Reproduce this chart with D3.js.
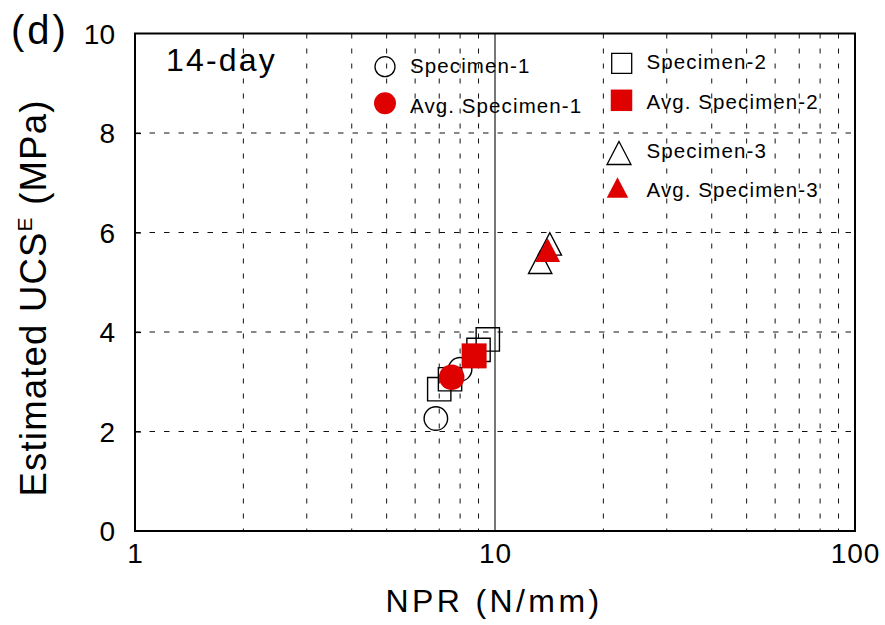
<!DOCTYPE html>
<html>
<head>
<meta charset="utf-8">
<script src="https://cdn.jsdelivr.net/npm/d3@7/dist/d3.min.js"></script>
<style>
  html, body { margin: 0; padding: 0; background: #fff; }
  svg { display: block; font-family: "Liberation Sans", Arial, sans-serif; }
</style>
</head>
<body>
<svg id="chart" width="885" height="625"></svg>
<script>
// NPR (N/mm) vs estimated UCS (MPa), 14-day specimens
const spec1NPR = [6.85, 8.0];
const spec1UCS = [2.26, 3.25];
const avg1NPR = [7.58];
const avg1UCS = [3.09];

const spec2NPR = [7.0, 7.5, 9.0, 9.55];
const spec2UCS = [2.85, 3.05, 3.64, 3.85];
const avg2NPR = [8.75];
const avg2UCS = [3.52];

const spec3NPR = [14.2, 13.35];
const spec3UCS = [5.77, 5.40];
const avg3NPR = [14.0];
const avg3UCS = [5.65];

const xTickValues = [1, 10, 100];
const yTickValues = [0, 2, 4, 6, 8, 10];
const xMinorGrid = [2, 3, 4, 5, 6, 7, 8, 9, 20, 30, 40, 50, 60, 70, 80, 90];
const yGrid = [2, 4, 6, 8];

const legendLabels = ["Specimen-1", "Avg. Specimen-1", "Specimen-2", "Avg. Specimen-2", "Specimen-3", "Avg. Specimen-3"];
const panelLabel = "(d)";
const ageLabel = "14-day";

const RED = "#df0000";

const svg = d3.select("#chart");
const plot = { left: 135, right: 855, top: 33.5, bottom: 531 };

const x = d3.scaleLog().domain([1, 100]).range([plot.left, plot.right]);
const y = d3.scaleLinear().domain([0, 10]).range([plot.bottom, plot.top]);

// marker outlines, centred on (0,0)
function markerPath(shape, s) {
  const p = d3.path();
  if (shape === "circle") {
    p.arc(0, 0, s / 2, 0, 2 * Math.PI);
  } else if (shape === "square") {
    p.rect(-s / 2, -s / 2, s, s);
  } else {
    const w = s, h = s * 0.96;
    p.moveTo(0, -h / 2);
    p.lineTo(w / 2, h / 2);
    p.lineTo(-w / 2, h / 2);
    p.closePath();
  }
  return p.toString();
}

// grid
const grid = svg.append("g");
grid.selectAll("line.vx").data(xMinorGrid).join("line")
  .attr("x1", d => x(d)).attr("x2", d => x(d))
  .attr("y1", plot.top).attr("y2", plot.bottom)
  .attr("stroke", "#111").attr("stroke-width", 1)
  .attr("stroke-dasharray", "5,10");
grid.selectAll("line.hy").data(yGrid).join("line")
  .attr("x1", plot.left).attr("x2", plot.right)
  .attr("y1", d => y(d)).attr("y2", d => y(d))
  .attr("stroke", "#111").attr("stroke-width", 1)
  .attr("stroke-dasharray", "5.5,9");
grid.append("line")
  .attr("x1", x(10)).attr("x2", x(10))
  .attr("y1", plot.top).attr("y2", plot.bottom)
  .attr("stroke", "#555").attr("stroke-width", 1.6);

// y axis with short inward ticks
const yAxis = d3.axisLeft(y).tickValues(yTickValues).tickSize(-6).tickPadding(20).tickFormat(d3.format("d"));
const yg = svg.append("g").attr("transform", `translate(${plot.left},0)`).call(yAxis);
yg.select(".domain").remove();
yg.selectAll(".tick line").attr("stroke", "#000").attr("stroke-width", 1.2)
  .filter(d => d === 0 || d === 10).remove();
yg.selectAll(".tick text").attr("font-size", 28).attr("fill", "#000")
  .attr("font-family", "Liberation Sans, Arial, sans-serif").attr("dy", "0.35em");

// x axis labels
const xAxis = d3.axisBottom(x).tickValues(xTickValues).tickSize(0).tickPadding(12).tickFormat(d3.format("d"));
const xg = svg.append("g").attr("transform", `translate(0,${plot.bottom})`).call(xAxis);
xg.select(".domain").remove();
xg.selectAll(".tick text").attr("font-size", 28).attr("fill", "#000")
  .attr("font-family", "Liberation Sans, Arial, sans-serif").attr("dy", "0.71em")
  .attr("letter-spacing", 1);

// frame
svg.append("rect")
  .attr("x", plot.left).attr("y", plot.top)
  .attr("width", plot.right - plot.left).attr("height", plot.bottom - plot.top)
  .attr("fill", "none").attr("stroke", "#000").attr("stroke-width", 2);

// data markers
const zip = (a, b) => a.map((v, i) => [v, b[i]]);
const series = [
  { pts: zip(spec1NPR, spec1UCS), shape: "circle", size: 23.5, fill: "none" },
  { pts: zip(spec2NPR, spec2UCS), shape: "square", size: 23.3, fill: "none" },
  { pts: zip(spec3NPR, spec3UCS), shape: "triangle", size: 23.3, fill: "none" },
  { pts: zip(avg1NPR, avg1UCS), shape: "circle", size: 25.6, fill: RED },
  { pts: zip(avg2NPR, avg2UCS), shape: "square", size: 25, fill: RED },
  { pts: zip(avg3NPR, avg3UCS), shape: "triangle", size: 25, fill: RED }
];
series.forEach(s => {
  svg.append("g").selectAll("path").data(s.pts).join("path")
    .attr("transform", d => `translate(${x(d[0])},${y(d[1])})`)
    .attr("d", markerPath(s.shape, s.size))
    .attr("fill", s.fill)
    .attr("stroke", s.fill === "none" ? "#000" : "none")
    .attr("stroke-width", 1.4);
});

// legend
const legendItems = [
  { shape: "circle", size: 20, fill: "none", mx: 385, my: 66.7, tx: 410, ty: 73 },
  { shape: "circle", size: 22, fill: RED, mx: 385, my: 103.3, tx: 410, ty: 112.5 },
  { shape: "square", size: 20, fill: "none", mx: 621.7, my: 63.3, tx: 646.5, ty: 69 },
  { shape: "square", size: 21.5, fill: RED, mx: 621.5, my: 100.3, tx: 646.5, ty: 109 },
  { shape: "triangle", size: 24, fill: "none", mx: 619, my: 153, tx: 646.5, ty: 158 },
  { shape: "triangle", size: 21.5, fill: RED, mx: 617.5, my: 187.5, tx: 646.5, ty: 196.5 }
];
const lg = svg.append("g");
legendItems.forEach((it, i) => {
  lg.append("path")
    .attr("transform", `translate(${it.mx},${it.my})`)
    .attr("d", markerPath(it.shape, it.size))
    .attr("fill", it.fill)
    .attr("stroke", it.fill === "none" ? "#000" : "none")
    .attr("stroke-width", 1.3);
  lg.append("text")
    .attr("x", it.tx).attr("y", it.ty)
    .attr("font-size", 20.5).attr("letter-spacing", 1.1)
    .attr("fill", "#000")
    .text(legendLabels[i]);
});

// annotations
svg.append("text").attr("x", 166).attr("y", 71)
  .attr("font-size", 32).attr("letter-spacing", 2.2).text(ageLabel);
svg.append("text").attr("x", 11).attr("y", 44)
  .attr("font-size", 40).attr("letter-spacing", 3).text(panelLabel);

// axis titles
svg.append("text")
  .attr("x", 494).attr("y", 612)
  .attr("text-anchor", "middle")
  .attr("font-size", 32).attr("letter-spacing", 3.4)
  .text("NPR (N/mm)");

const yt = svg.append("text")
  .attr("transform", "translate(46,298) rotate(-90)")
  .attr("text-anchor", "middle")
  .attr("font-size", 36.5).attr("letter-spacing", 1.2);
yt.append("tspan").text("Estimated UCS");
yt.append("tspan").attr("font-size", 21).attr("dy", -14).text("E");
yt.append("tspan").attr("dy", 14).text(" (MPa)");
</script>
</body>
</html>
